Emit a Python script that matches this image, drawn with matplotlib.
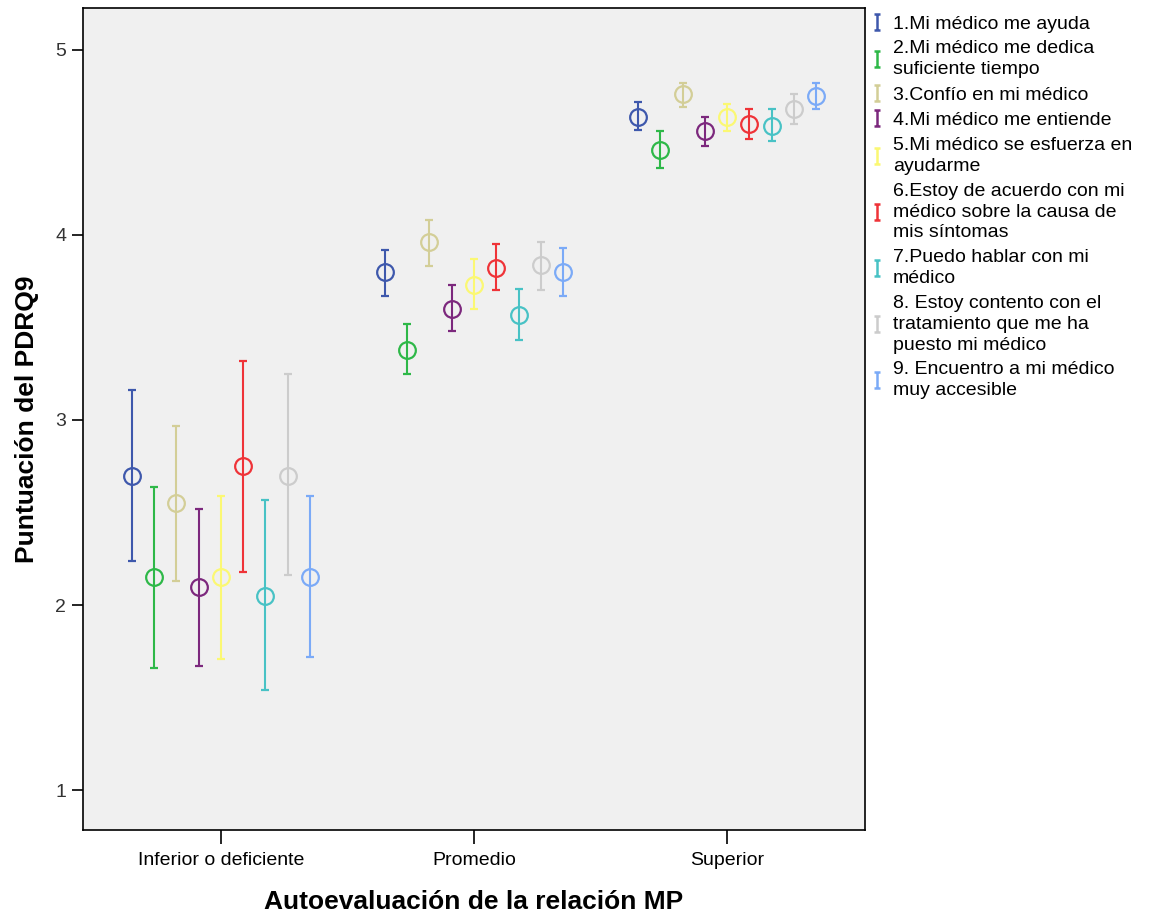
import matplotlib
matplotlib.use("Agg")
import matplotlib.pyplot as plt
from matplotlib.path import Path
from matplotlib.lines import Line2D
import numpy as np

plt.rcParams['font.family'] = ['Liberation Sans', 'DejaVu Sans']

categories = ["Inferior o deficiente", "Promedio", "Superior"]
items = [
    "1.Mi médico me ayuda",
    "2.Mi médico me dedica\nsuficiente tiempo",
    "3.Confío en mi médico",
    "4.Mi médico me entiende",
    "5.Mi médico se esfuerza en\nayudarme",
    "6.Estoy de acuerdo con mi\nmédico sobre la causa de\nmis síntomas",
    "7.Puedo hablar con mi\nmédico",
    "8. Estoy contento con el\ntratamiento que me ha\npuesto mi médico",
    "9. Encuentro a mi médico\nmuy accesible",
]
colors = ["#3E58AC", "#2EB848", "#D3CE97", "#7C287D", "#FBF873",
          "#EF3338", "#48C2C5", "#CCCCCC", "#7BAAF7"]

# means per item (rows) for each category (columns)
means = [
    [2.70, 3.80, 4.64],
    [2.15, 3.38, 4.46],
    [2.55, 3.96, 4.76],
    [2.10, 3.60, 4.56],
    [2.15, 3.73, 4.64],
    [2.75, 3.82, 4.60],
    [2.05, 3.57, 4.59],
    [2.70, 3.84, 4.68],
    [2.15, 3.80, 4.75],
]
lower = [
    [2.24, 3.67, 4.57],
    [1.66, 3.25, 4.36],
    [2.13, 3.83, 4.69],
    [1.67, 3.48, 4.48],
    [1.71, 3.60, 4.56],
    [2.18, 3.70, 4.52],
    [1.54, 3.43, 4.51],
    [2.16, 3.70, 4.60],
    [1.72, 3.67, 4.68],
]
upper = [
    [3.16, 3.92, 4.72],
    [2.64, 3.52, 4.56],
    [2.97, 4.08, 4.82],
    [2.52, 3.73, 4.64],
    [2.59, 3.87, 4.71],
    [3.32, 3.95, 4.68],
    [2.57, 3.71, 4.68],
    [3.25, 3.96, 4.76],
    [2.59, 3.93, 4.82],
]

fig = plt.figure(figsize=(11.5, 9.15), dpi=100)
ax = fig.add_axes([0.0722, 0.0929, 0.680, 0.8984])
ax.set_facecolor("#F0F0F0")

n = len(items)
step = 0.088
xbase = np.arange(len(categories))
for i in range(n):
    xs = xbase + (i - (n - 1) / 2) * step
    m = np.array(means[i])
    lo = m - np.array(lower[i])
    hi = np.array(upper[i]) - m
    ax.errorbar(xs, m, yerr=[lo, hi], fmt='o', color=colors[i],
                mfc='none', mec=colors[i], ms=12, mew=1.6,
                elinewidth=1.5, capsize=3, capthick=1.5, zorder=3)

ax.set_xlim(-0.545, 2.545)
ax.set_ylim(0.784, 5.227)
ax.set_xticks(xbase)
ax.set_xticklabels(categories, fontsize=14)
ax.set_yticks([1, 2, 3, 4, 5])
ax.set_yticklabels(["1", "2", "3", "4", "5"], fontsize=14, color="#333333")
ax.tick_params(axis='x', length=10, width=1.2, pad=6)
ax.tick_params(axis='y', length=8, width=1.2, pad=4)
for s in ax.spines.values():
    s.set_linewidth(1.2)

fig.text(0.412, 0.007, "Autoevaluación de la relación MP", fontsize=19,
         fontweight='bold', ha='center', va='baseline')
ax.set_ylabel("Puntuación del PDRQ9", fontsize=19, fontweight='bold', labelpad=12)

capmark = Path([(-0.35, 1), (0.35, 1), (0, 1), (0, -1), (-0.35, -1), (0.35, -1)],
               [Path.MOVETO, Path.LINETO, Path.MOVETO, Path.LINETO, Path.MOVETO, Path.LINETO])
handles = [Line2D([], [], linestyle='none', marker=capmark, markersize=12,
                  markeredgecolor=c, markerfacecolor='none', markeredgewidth=1.8)
           for c in colors]
leg = fig.legend(handles, items, loc='upper left', bbox_to_anchor=(0.752, 0.992),
                 frameon=False, fontsize=14, handlelength=0.5, handletextpad=0.55,
                 labelspacing=0.4, borderaxespad=0)
for t in leg.get_texts():
    t.set_linespacing(1.3)

fig.savefig("out.png", dpi=100)
